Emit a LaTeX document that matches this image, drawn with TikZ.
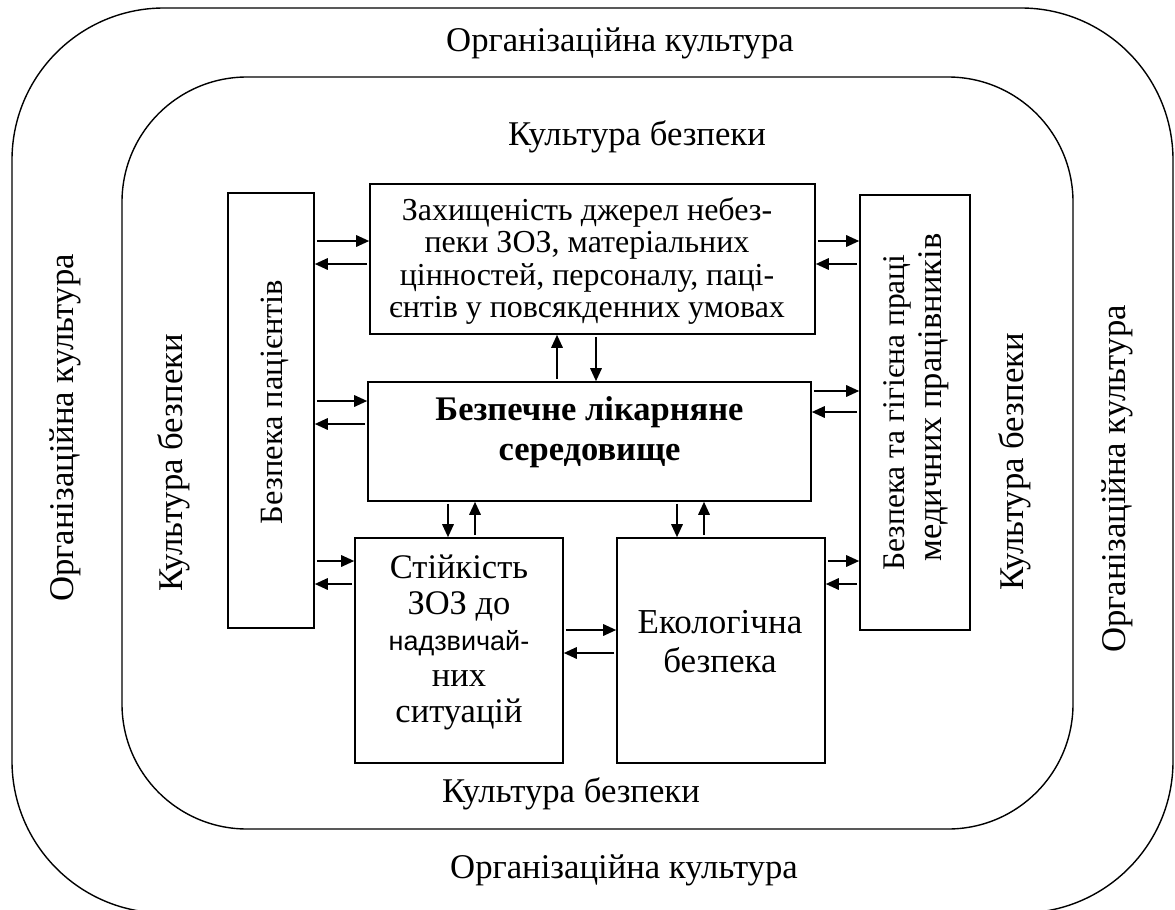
\documentclass[tikz,border=0pt]{standalone}
\usepackage{fontspec}
\setmainfont{Liberation Serif}
\setsansfont{Liberation Sans}
\usetikzlibrary{arrows.meta}
\tikzset{
  frame/.style={draw, line width=1.4pt},
  box/.style={draw, line width=1.6pt, inner sep=0pt, anchor=center},
  arr/.style={line width=1.7pt, -{Triangle[length=13pt,width=11.5pt]}, shorten <=2pt},
  biglbl/.style={font=\fontsize{34.7}{40}\selectfont, inner sep=0pt},
  boxtxt/.style={font=\fontsize{34.5}{36}\selectfont, align=center, inner sep=0pt},
  boldtxt/.style={font=\fontsize{34.5}{40}\selectfont\bfseries, align=center, inner sep=0pt},
}
\begin{document}
\begin{tikzpicture}[x=1pt,y=-1pt]
\useasboundingbox (0,0) rectangle (1175,910);
% frames
\draw[frame, rounded corners=152pt] (12,8) rectangle (1173,913);
\draw[frame, rounded corners=125pt] (122,77) rectangle (1073,829);
% frame labels
\node[biglbl, anchor=base] (org-top) at (620,51) {Організаційна культура};
\node[biglbl, anchor=base] (org-bot) at (624,878) {Організаційна культура};
\node[biglbl, anchor=base, rotate=90] (org-left) at (73,428) {Організаційна культура};
\node[biglbl, anchor=base, rotate=90] (org-right) at (1125,479) {Організаційна культура};
\node[biglbl, anchor=base] (kb-top) at (637,145) {Культура безпеки};
\node[biglbl, anchor=base] (kb-bot) at (571,802) {Культура безпеки};
\node[biglbl, anchor=base, rotate=90] (kb-left) at (182,463) {Культура безпеки};
\node[biglbl, anchor=base, rotate=90] (kb-right) at (1023,462) {Культура безпеки};
% boxes
\node[box, minimum width=86pt, minimum height=435pt] (pac) at (271,410.5) {};
\node[box, minimum width=445pt, minimum height=150pt] (zah) at (592.5,259) {};
\node[box, minimum width=443pt, minimum height=119pt] (bez) at (589.5,441.5) {};
\node[box, minimum width=110pt, minimum height=435pt] (prac) at (915,412.5) {};
\node[box, minimum width=208pt, minimum height=225pt] (stiy) at (459,650.5) {};
\node[box, minimum width=208pt, minimum height=225pt] (eko) at (721,650.5) {};
% box texts
\node[boxtxt, font=\fontsize{32.5}{36}\selectfont, anchor=base, rotate=90] (pac-t) at (282,402) {Безпека пацієнтів};
\node[boxtxt, font=\fontsize{31.5}{36}\selectfont, anchor=base, rotate=90] (prac-t1) at (904,412.5) {Безпека та гігієна праці};
\node[boxtxt, font=\fontsize{34.5}{36}\selectfont, anchor=base, rotate=90] (prac-t2) at (941,397.5) {медичних працівників};
\node[boxtxt, font=\fontsize{32}{32.5}\selectfont] (zah-t) at (587,261) {Захищеність джерел небез-\\пеки ЗОЗ, матеріальних\\цінностей, персоналу, паці-\\єнтів у повсякденних умовах};
\node[boldtxt] (bez-t) at (589.5,432) {Безпечне лікарняне\\середовище};
\node[boxtxt] (stiy-t) at (459,642) {Стійкість\\ЗОЗ до\\{\sffamily\fontsize{27}{36}\selectfont надзвичай-}\\них\\ситуацій};
\node[boxtxt, font=\fontsize{35}{39}\selectfont] (eko-t) at (720,642) {Екологічна\\безпека};
% connectors
\draw[arr] (pac.east |- 0,241) -- (zah.west |- 0,241);
\draw[arr] (zah.west |- 0,264) -- (pac.east |- 0,264);
\draw[arr] (pac.east |- 0,401) -- (bez.west |- 0,401);
\draw[arr] (bez.west |- 0,424) -- (pac.east |- 0,424);
\draw[arr] (pac.east |- 0,561) -- (stiy.west |- 0,561);
\draw[arr] (stiy.west |- 0,584) -- (pac.east |- 0,584);
\draw[arr] (bez.north -| 557,0) -- (zah.south -| 557,0);
\draw[arr] (zah.south -| 596,0) -- (bez.north -| 596,0);
\draw[arr] (zah.east |- 0,241) -- (prac.west |- 0,241);
\draw[arr] (prac.west |- 0,264) -- (zah.east |- 0,264);
\draw[arr] (bez.east |- 0,391) -- (prac.west |- 0,391);
\draw[arr] (prac.west |- 0,412) -- (bez.east |- 0,412);
\draw[arr] (bez.south -| 448,0) -- (stiy.north -| 448,0);
\draw[arr] (stiy.north -| 475,0) -- (bez.south -| 475,0);
\draw[arr] (bez.south -| 677,0) -- (eko.north -| 677,0);
\draw[arr] (eko.north -| 704,0) -- (bez.south -| 704,0);
\draw[arr] (stiy.east |- 0,630) -- (eko.west |- 0,630);
\draw[arr] (eko.west |- 0,653) -- (stiy.east |- 0,653);
\draw[arr] (eko.east |- 0,561) -- (prac.west |- 0,561);
\draw[arr] (prac.west |- 0,584) -- (eko.east |- 0,584);
\end{tikzpicture}
\end{document}
